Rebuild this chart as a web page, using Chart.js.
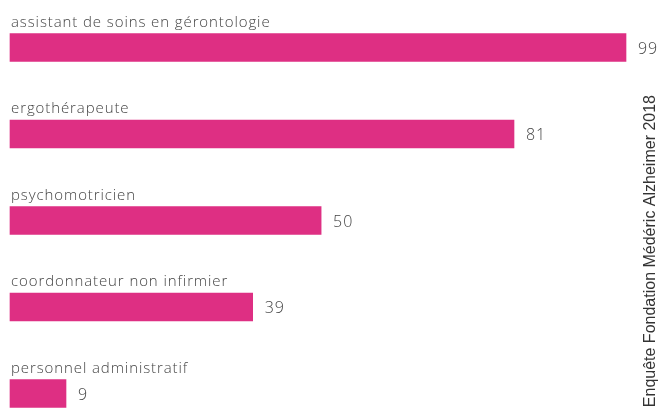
<!DOCTYPE html>
<html>
<head>
<meta charset="utf-8">
<script src="https://cdn.jsdelivr.net/npm/chart.js@4/dist/chart.umd.min.js"></script>
<style>
  body { margin: 0; background: #fff; }
</style>
</head>
<body>
<canvas id="myChart" width="661" height="410"></canvas>
<script>
const categories = [
    'assistant de soins en gérontologie',
    'ergothérapeute',
    'psychomotricien',
    'coordonnateur non infirmier',
    'personnel administratif'
]
const values = [99, 81, 50, 39, 9]
const sourceText = 'Enquête Fondation Médéric Alzheimer 2018'

const barColor = '#de2f83'
const textColor = '#444'

// labels above each bar + values to the right + vertical source
const labelPlugin = {
    id: 'labels',
    afterDatasetsDraw(chart) {
        const ctx = chart.ctx
        const meta = chart.getDatasetMeta(0)
        ctx.save()
        ctx.fillStyle = textColor
        ctx.textBaseline = 'alphabetic'
        ctx.textAlign = 'left'
        ctx.letterSpacing = '0.9px'
        meta.data.forEach((bar, i) => {
            ctx.font = '300 15px "Open Sans"'
            ctx.fillText(categories[i], 11, bar.y - 21)
            ctx.font = '300 16px "Open Sans"'
            ctx.fillText(values[i], bar.x + 12, bar.y + 6)
        })
        ctx.restore()

        ctx.save()
        ctx.translate(651, 95)
        ctx.rotate(-Math.PI / 2)
        ctx.letterSpacing = '0px'
        ctx.font = '16px "Liberation Sans"'
        ctx.fillStyle = '#333'
        ctx.textAlign = 'right'
        ctx.textBaseline = 'middle'
        ctx.fillText(sourceText, 0, 0)
        ctx.restore()
    }
}

const config = {
    type: 'bar',
    data: {
        labels: categories,
        datasets: [{
            data: values,
            backgroundColor: barColor,
            barThickness: 28,
            clip: false
        }]
    },
    options: {
        indexAxis: 'y',
        responsive: false,
        animation: false,
        layout: {
            padding: { left: 10, right: 35, top: 47.5, bottom: 16.5 }
        },
        plugins: {
            legend: { display: false },
            tooltip: { enabled: false }
        },
        scales: {
            x: { display: false, min: 0, max: 99 },
            y: { display: false, offset: false }
        }
    },
    plugins: [labelPlugin]
}

let chartCanvas = new Chart(document.querySelector('#myChart'), config)
</script>
</body>
</html>
